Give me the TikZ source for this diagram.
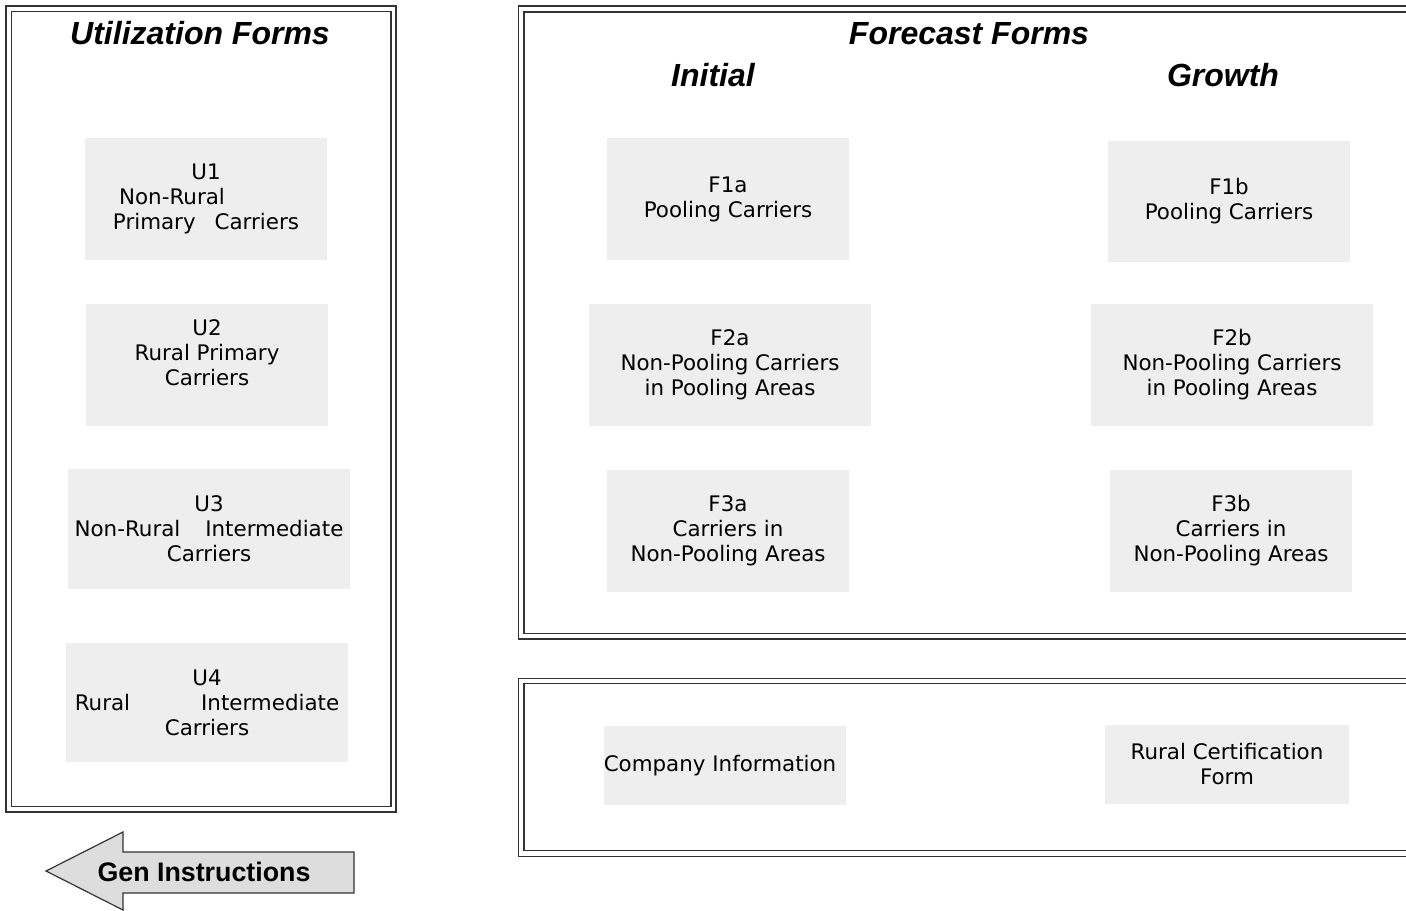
\documentclass[tikz,border=0pt]{standalone}
\usepackage{fontspec}
\setmainfont{DejaVu Sans}
\newfontfamily\headfont{Liberation Sans}
\definecolor{boxgray}{HTML}{EEEEEE}
\definecolor{arrowgray}{HTML}{DDDDDD}
\definecolor{framegray}{HTML}{333333}
\begin{document}
\begin{tikzpicture}[x=1bp,y=-1bp,
  formbox/.style={fill=boxgray, draw=none, inner sep=0pt, align=center,
    font=\fontsize{21.4bp}{25bp}\selectfont},
  frameline/.style={draw=framegray, line width=1.5bp},
  heading/.style={font=\headfont\fontsize{32bp}{36bp}\selectfont\bfseries\itshape, anchor=base, inner sep=0pt}]
\useasboundingbox (0,0) rectangle (1406,910);
\clip (0,0) rectangle (1406,910);
% frames
\draw[frameline] (6,6) rectangle (396,812);
\draw[frameline] (11.5,11.5) rectangle (391,806.5);
\draw[frameline] (518.5,6) rectangle (1420,639);
\draw[frameline] (524,12) rectangle (1420,633.5);
\draw[frameline] (518.5,678.5) rectangle (1420,856.5);
\draw[frameline] (524,683.5) rectangle (1420,850.5);
% headings
\node[heading] (hu) at (200,44) {Utilization Forms};
\node[heading] (hf) at (969,44) {Forecast Forms};
\node[heading] (hi) at (713,86) {Initial};
\node[heading] (hg) at (1223,86) {Growth};
% utilization boxes
\node[formbox, minimum width=242bp, minimum height=122bp] (u1) at (206,199)
  {U1\\Non-Rural\hspace{68bp}\mbox{}\\Primary\hspace{19bp}Carriers};
\node[formbox, minimum width=242bp, minimum height=122bp] (u2) at (207,365)
  {U2\\Rural Primary\\Carriers\\\mbox{}};
\node[formbox, minimum width=282bp, minimum height=120bp] (u3) at (209,529)
  {U3\\Non-Rural\hspace{25bp}Intermediate\\Carriers};
\node[formbox, minimum width=282bp, minimum height=119bp] (u4) at (207,702.5)
  {U4\\Rural\hspace{71bp}Intermediate\\Carriers};
% forecast boxes
\node[formbox, minimum width=242bp, minimum height=122bp] (f1a) at (728,199)
  {F1a\\Pooling Carriers};
\node[formbox, minimum width=242bp, minimum height=121bp] (f1b) at (1229,201.5)
  {F1b\\Pooling Carriers};
\node[formbox, minimum width=282bp, minimum height=122bp] (f2a) at (730,365)
  {F2a\\Non-Pooling Carriers\\in Pooling Areas};
\node[formbox, minimum width=282bp, minimum height=122bp] (f2b) at (1232,365)
  {F2b\\Non-Pooling Carriers\\in Pooling Areas};
\node[formbox, minimum width=242bp, minimum height=122bp] (f3a) at (728,531)
  {F3a\\Carriers in\\Non-Pooling Areas};
\node[formbox, minimum width=242bp, minimum height=122bp] (f3b) at (1231,531)
  {F3b\\Carriers in\\Non-Pooling Areas};
% lower boxes
\node[formbox, minimum width=242bp, minimum height=79bp] (ci) at (725,765.5)
  {Company Information\hspace{10bp}\mbox{}};
\node[formbox, minimum width=244bp, minimum height=79bp] (rc) at (1227,764.5)
  {Rural Certification\\Form};
% arrow
\draw[draw=framegray, line width=1.2bp, fill=arrowgray]
  (46,871) -- (123,832) -- (123,852) -- (354,852) -- (354,893) -- (123,893) -- (123,910) -- cycle;
\node[font=\headfont\fontsize{26.8bp}{30bp}\selectfont\bfseries, anchor=base, inner sep=0pt] (gen) at (204,881) {Gen Instructions};
\end{tikzpicture}
\end{document}
